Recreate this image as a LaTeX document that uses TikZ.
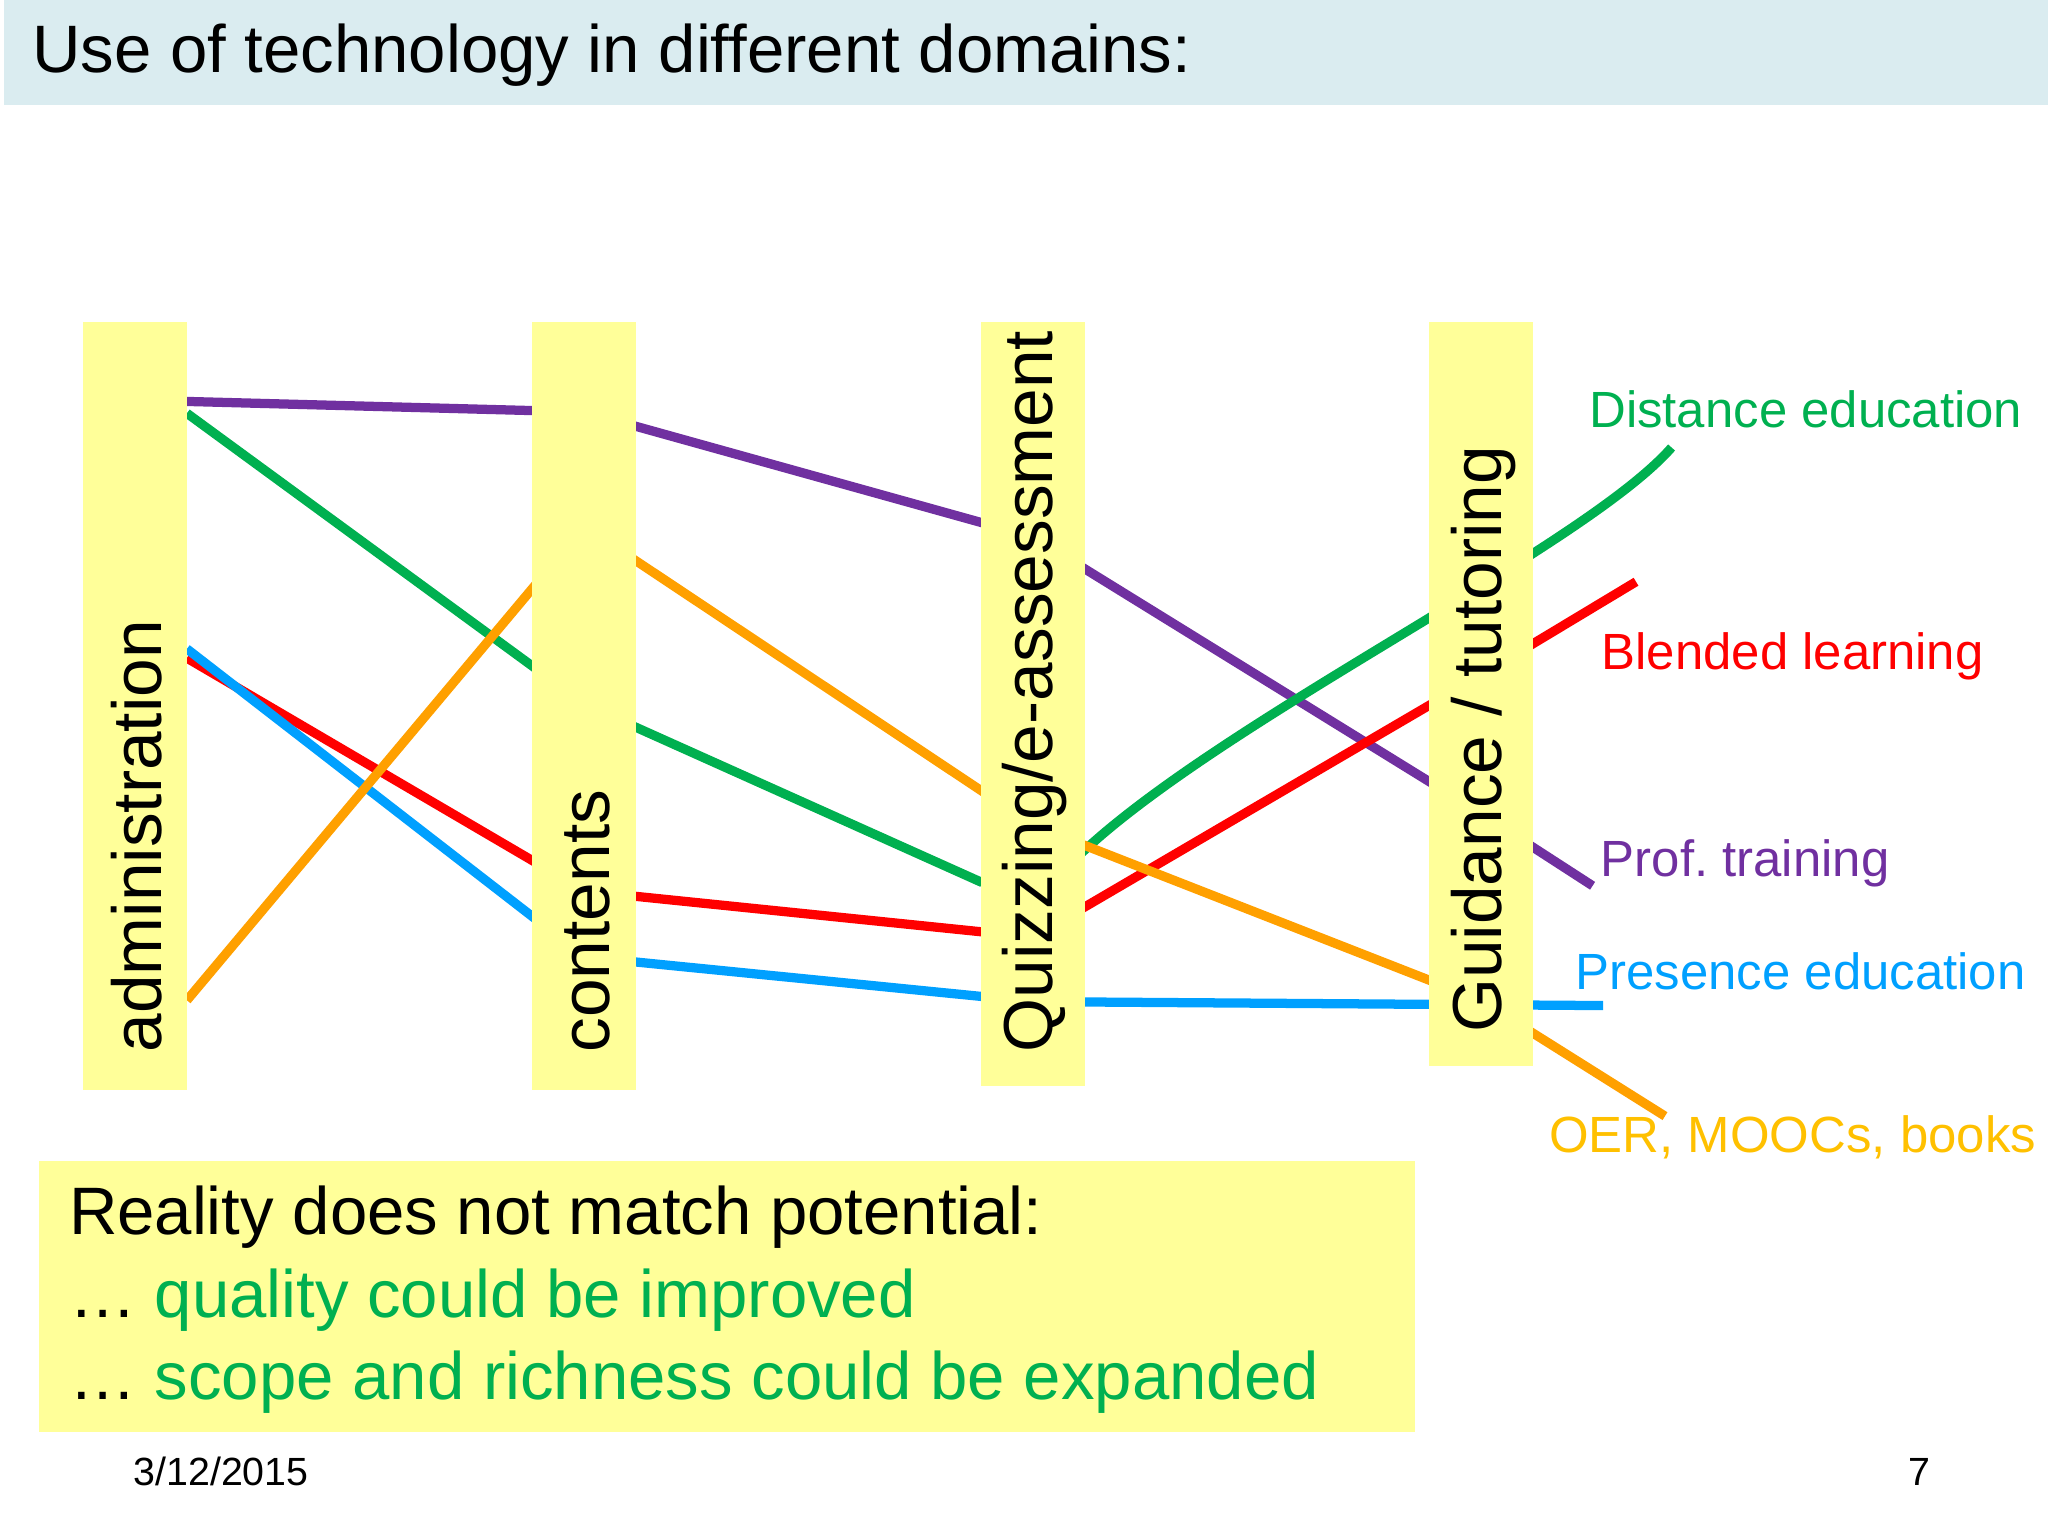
\documentclass[tikz,border=0pt]{standalone}
\usepackage{fontspec}
\setmainfont{Liberation Sans}
\frenchspacing
\begin{document}
\begin{tikzpicture}[x=0.01cm,y=-0.01cm,
  ln/.style={line width=2pt},
  bar/.style={fill=byel,draw=none},
  barlab/.style={rotate=90,anchor=west,font=\fontsize{15}{17}\selectfont},
  lab/.style={font=\fontsize{11}{13}\selectfont},
  boxtxt/.style={anchor=west,font=\fontsize{14.5}{17}\selectfont}]
\definecolor{byel}{RGB}{255,255,153}
\definecolor{tband}{RGB}{218,236,240}
\definecolor{cg}{RGB}{0,176,80}
\definecolor{cr}{RGB}{255,0,0}
\definecolor{cp}{RGB}{112,48,160}
\definecolor{cb}{RGB}{0,160,255}
\definecolor{co}{RGB}{255,160,0}
\definecolor{col}{RGB}{255,192,0}
\useasboundingbox (0,0) rectangle (1556,1170);
\fill[tband] (3,0) rectangle (1556,80);
\node[anchor=west,font=\fontsize{14.5}{17}\selectfont] (title) at (12,42) {Use of technology in different domains:};
% lines
\draw[ln,cp] (142,305) -- (444,313) -- (785,408) -- (1125,618) -- (1210,673);
\draw[ln,cg] (142,314) -- (444,535) -- (745,670) -- (805,665) .. controls (900,560) and (1200,420) .. (1270,340);
\draw[ln,cr] (142,500) -- (444,677) -- (785,712) -- (1125,513) -- (1243,442);
\draw[ln,cb] (142,493) -- (444,727) -- (785,761) -- (1218,764);
\draw[ln,co] (142,760) -- (444,400) -- (785,627) -- (1125,760) -- (1265,848);
% bars
\fill[bar] (63,245) rectangle (142,828);
\fill[bar] (404,245) rectangle (483,828);
\fill[bar] (745,245) rectangle (824,825);
\fill[bar] (1086,245) rectangle (1165,810);
\node[barlab] (a) at (104,812) {administration};
\node[barlab] (c) at (446,812) {contents};
\node[barlab] (q) at (786,812) {Quizzing/e-assessment};
\node[barlab] (g) at (1127,797) {Guidance / tutoring};
% labels
\node[lab,text=cg] (l1) at (1372,311) {Distance education};
\node[lab,text=cr] (l2) at (1362,499) {Blended learning};
\node[lab,text=cp] (l3) at (1326,656) {Prof. training};
\node[lab,text=cb] (l4) at (1368,738) {Presence education};
\node[lab,text=col] (l5) at (1362,864) {OER, MOOCs, books};
% box
\fill[byel] (30,882) rectangle (1075,1088);
\node[boxtxt] (b1) at (40,925) {Reality does not match potential:};
\node[boxtxt] (b2) at (40,988) {\dots\ \textcolor{cg}{quality could be improved}};
\node[boxtxt] (b3) at (40,1050) {\dots\ \textcolor{cg}{scope and richness could be expanded}};
\node[font=\fontsize{8.5}{10}\selectfont] (d) at (168,1118) {3/12/2015};
\node[font=\fontsize{8.5}{10}\selectfont] (p) at (1458,1118) {7};
\end{tikzpicture}
\end{document}
